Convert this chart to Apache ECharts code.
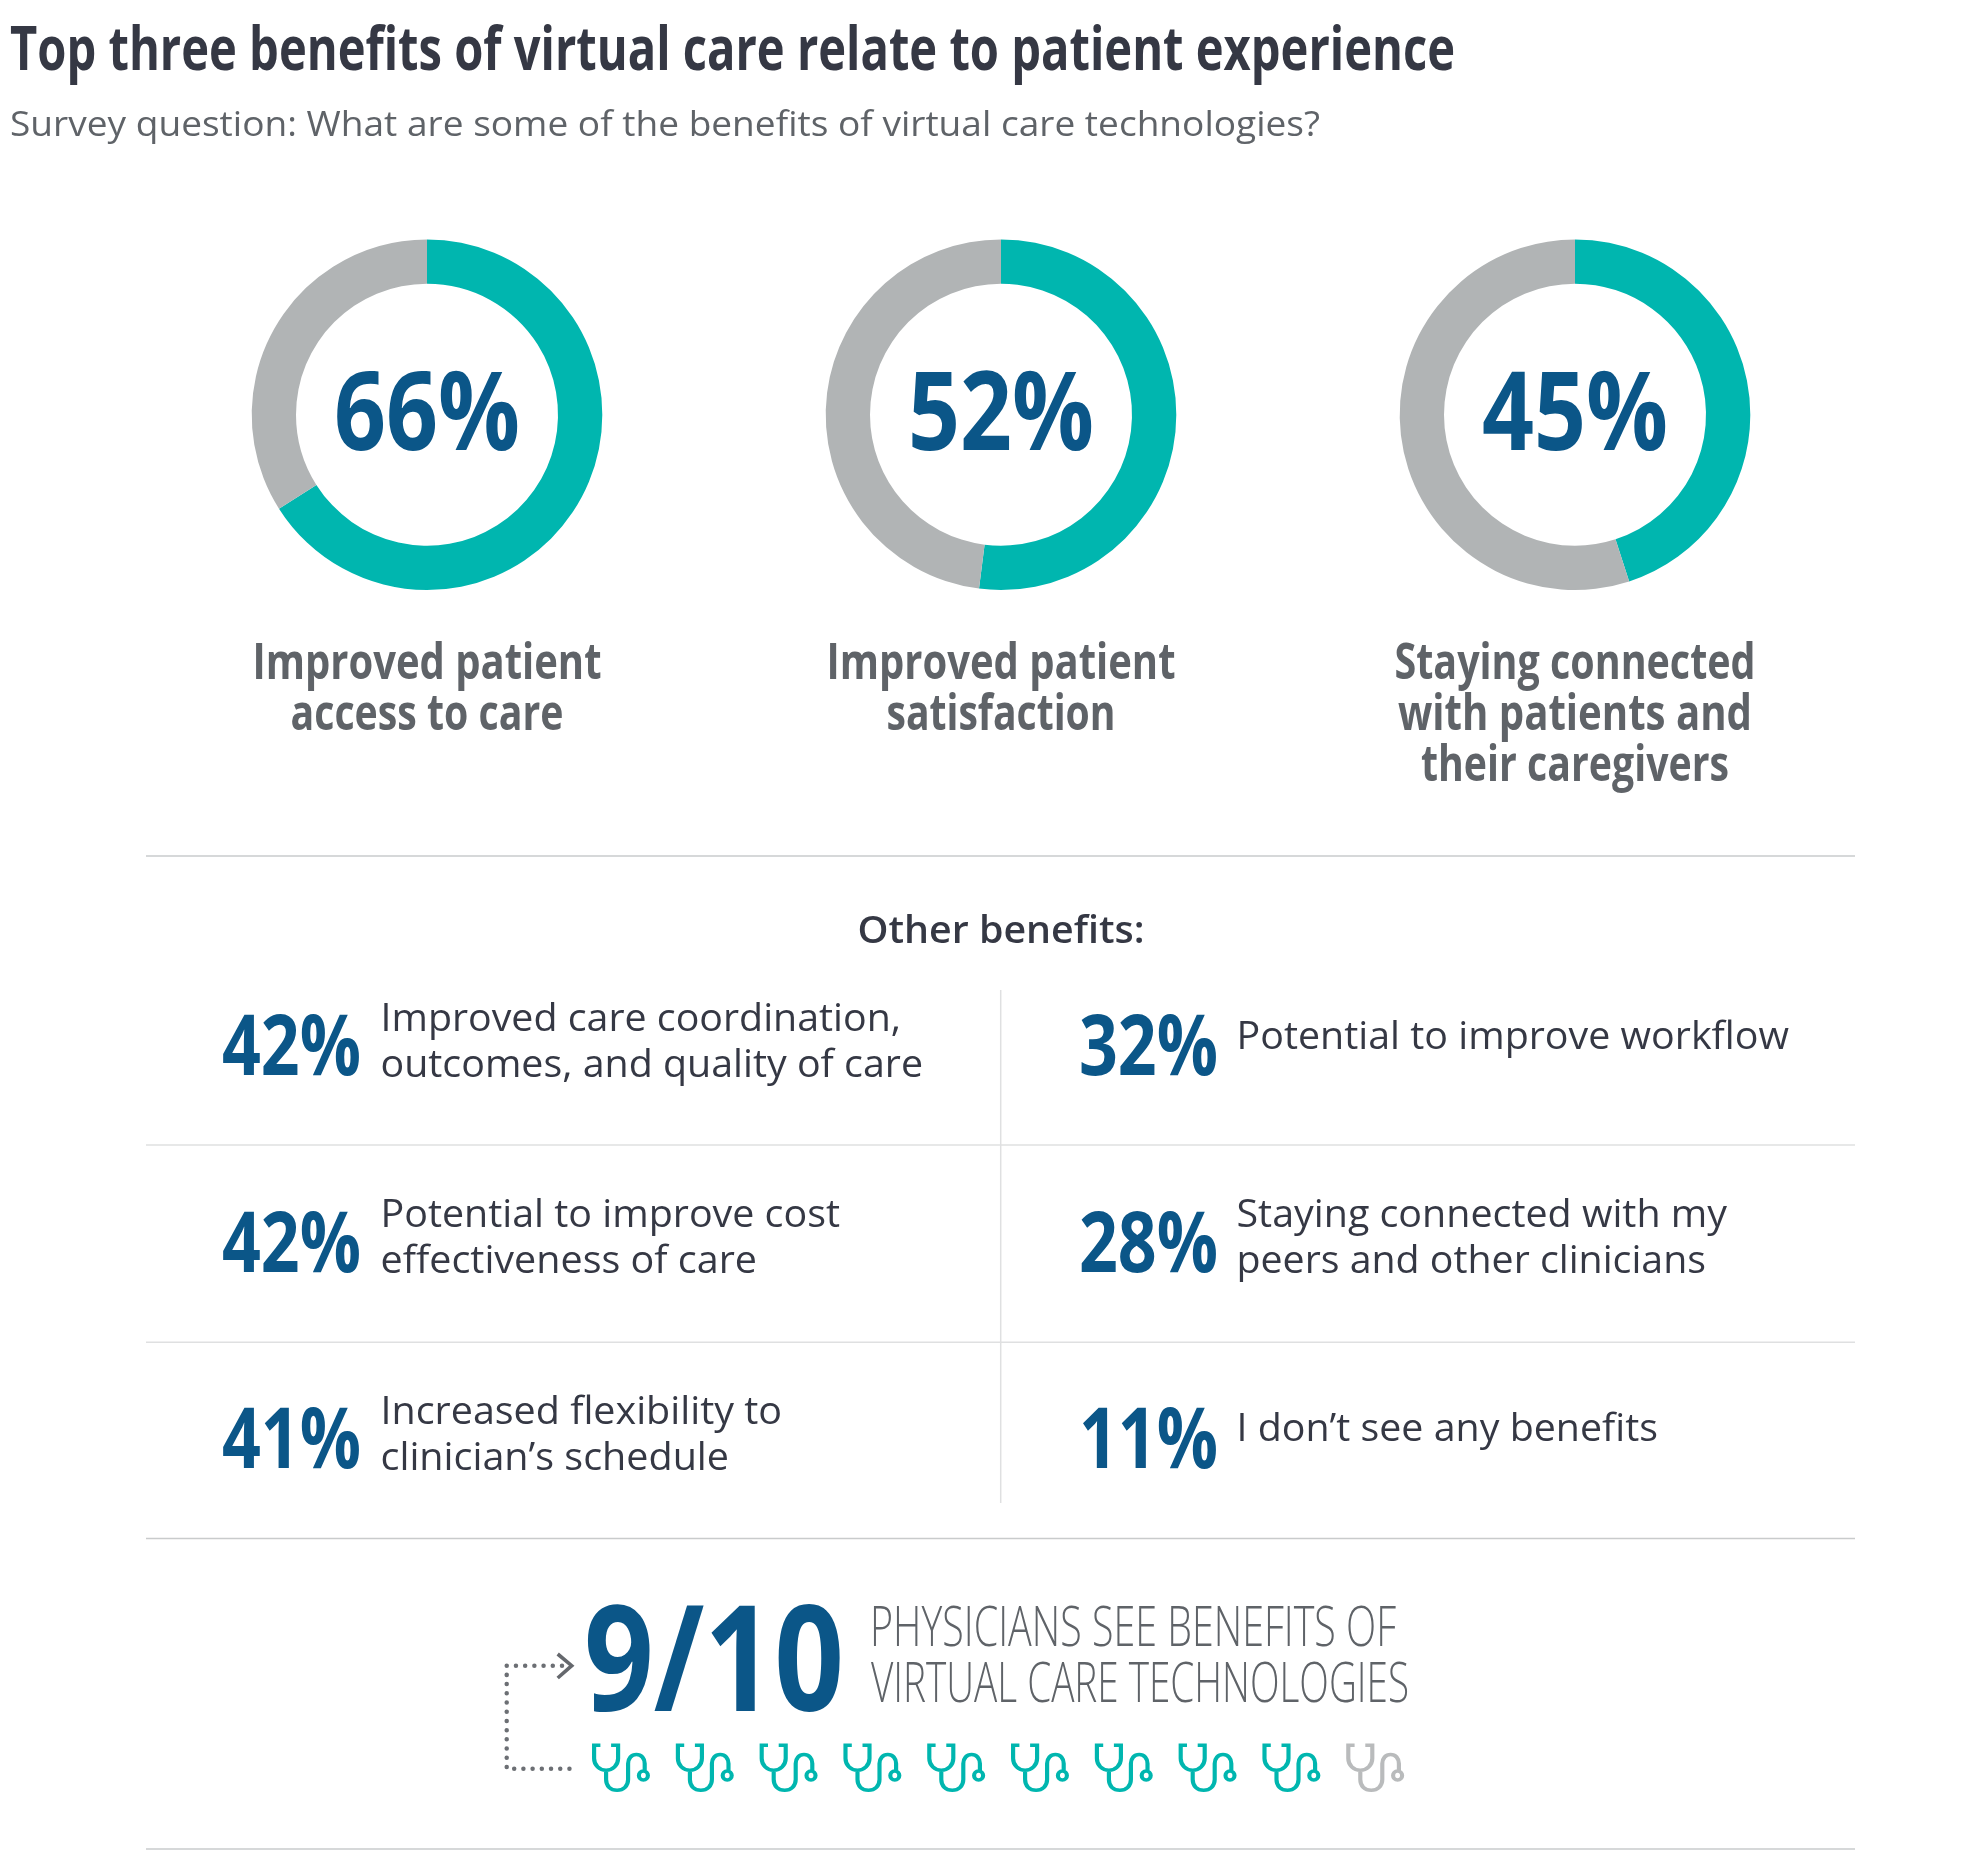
<!DOCTYPE html>
<html><head><meta charset="utf-8">
<style>html,body{margin:0;padding:0;background:#fff}#c{width:1976px;height:1870px}</style>
<script src="https://cdn.jsdelivr.net/npm/echarts@6/dist/echarts.min.js"></script>
</head><body><div id="c"></div>
<script>
// ---- data ----
const topLabels = [
  ["Improved patient", "access to care"],
  ["Improved patient", "satisfaction"],
  ["Staying connected", "with patients and", "their caregivers"]
];
const topValues = [66, 52, 45];
const otherValues = [42, 42, 41, 32, 28, 11];
const otherLabels = [
  ["Improved care coordination,", "outcomes, and quality of care"],
  ["Potential to improve cost", "effectiveness of care"],
  ["Increased flexibility to", "clinician\u2019s schedule"],
  ["Potential to improve workflow"],
  ["Staying connected with my", "peers and other clinicians"],
  ["I don\u2019t see any benefits"]
];
const physicians = [1, 1, 1, 1, 1, 1, 1, 1, 1, 0];
const titleText = "Top three benefits of virtual care relate to patient experience";
const subtitleText = "Survey question: What are some of the benefits of virtual care technologies?";
const otherHeading = "Other benefits:";
const fractionText = "9/10";
const fractionLines = ["PHYSICIANS SEE BENEFITS OF", "VIRTUAL CARE TECHNOLOGIES"];

// ---- style ----
const TEAL = "#00b6af", GREY = "#b1b4b5", BLUE = "#0b5688", DARK = "#353844", MID = "#5f6368", RULE = "#c9cbcc", RULE2 = "#dfe0e1";
const FONT = '"Open Sans"';
const meas = document.createElement("canvas").getContext("2d");
function txt(s, x, base, size, weight, fill, width, align) {
  const font = weight + " " + size + "px " + FONT;
  meas.font = font;
  const sx = width ? width / meas.measureText(s).width : 1;
  return { type: "text", x: x, y: base - 0.28 * size, scaleX: sx, silent: true, z: 10,
    style: { text: s, font: font, fill: fill, textAlign: align || "left", textVerticalAlign: "middle" } };
}
function rule(x1, y1, x2, y2, c) {
  return { type: "line", silent: true, shape: { x1, y1, x2, y2 }, style: { stroke: c, lineWidth: 1.5 } };
}
const g = [];
g.push(txt(titleText, 10, 70, 60, 700, DARK, 1445));
g.push(txt(subtitleText, 10, 135.7, 35, 400, MID, 1310));

const centers = [427, 1001, 1575];
const cy = 414.7;
const labelWidths = [[349, 273], [349, 229], [361, 354, 308]];
topValues.forEach((v, i) => {
  g.push(txt(v + "%", centers[i], 449, 110, 700, BLUE, 186, "center"));
  topLabels[i].forEach((l, j) => g.push(txt(l, centers[i], 678.8 + j * 50.9, 51, 700, MID, labelWidths[i][j], "center")));
});

[856, 1145, 1342.3, 1538.5, 1849].forEach((y, i) => g.push(rule(146, y, 1855, y, (i === 0 || i >= 3) ? RULE : RULE2)));
g.push(rule(1000.7, 990, 1000.7, 1503, RULE2));
g.push(txt(otherHeading, 1001, 943.3, 38, 600, DARK, 287, "center"));

const pctBase = [1075, 1272, 1468];
const pctX = [222, 1079];
const descX = [380.5, 1236.5];
const descW = [[520.5, 542.5], [459.5, 376.5], [401.5, 348.5], [552.5], [490.5, 469.5], [421.5]];
const descBase = [[1030.7, 1076.7], [1227, 1273], [1424, 1470], [1049], [1227, 1273], [1441]];
otherValues.forEach((v, i) => {
  const col = i < 3 ? 0 : 1, row = i % 3;
  g.push(txt(v + "%", pctX[col], pctBase[row], 84, 700, BLUE, 139));
  otherLabels[i].forEach((l, j) => g.push(txt(l, descX[col], descBase[i][j], 38, 400, DARK, descW[i][j])));
});

g.push(txt(fractionText, 584, 1710.7, 147, 700, BLUE, 260));
fractionLines.forEach((l, j) => g.push(txt(l, [870, 871][j], [1646, 1702][j], 54.6, 300, MID, [526, 538][j])));

const dot = { stroke: "#6c6f74", lineWidth: 4.5, lineDash: [0.01, 9.2], lineCap: "round", fill: "none" };
g.push({ type: "polyline", silent: true, shape: { points: [[562, 1665.7], [506.7, 1665.7], [506.7, 1768.7], [575, 1768.7]] }, style: dot });
g.push({ type: "polyline", silent: true, shape: { points: [[557.7, 1654], [571.7, 1665.7], [557.7, 1678]] }, style: { stroke: "#65686d", lineWidth: 3.6, fill: "none" } });

const scope = "path://M8 1.7H1.7V15C1.7 21.6 7 26.7 13.7 26.7C20.3 26.7 25.7 21.6 25.7 15V1.7H18.7M13.7 26.7V36C13.7 42.5 18 46.7 24.7 46.7C31 46.7 35.7 42.5 35.7 36V20C35.7 15 39 11 44 11C49 11 52.3 15 52.3 20V27.5M51 27.5C48.5 27.5 46.5 29.5 46.5 32C46.5 34.5 48.5 36.5 51 36.5C53.5 36.5 55.5 34.5 55.5 32C55.5 29.5 53.5 27.5 51 27.5Z";

const pies = topValues.map((v, i) => ({
  type: "pie", silent: true, center: [centers[i], cy], radius: [131, 175.3], startAngle: 90, clockwise: true,
  label: { show: false }, labelLine: { show: false }, emphasis: { disabled: true },
  data: [{ value: v, itemStyle: { color: TEAL } }, { value: 100 - v, itemStyle: { color: GREY } }]
}));

const chart = echarts.init(document.getElementById("c"), null, { renderer: "canvas", width: 1976, height: 1870 });
chart.setOption({
  animation: false, backgroundColor: "#fff",
  grid: { left: 621, width: 754.2, top: 1766.7, height: 1 },
  xAxis: { type: "value", min: 0, max: 9, show: false },
  yAxis: { type: "value", min: 0, max: 1, show: false },
  graphic: g,
  series: pies.concat([{
    type: "scatter", silent: true, symbol: scope, symbolSize: [53.8, 45], symbolKeepAspect: false,
    data: physicians.map((v, i) => ({
      value: [i, 0],
      itemStyle: { opacity: 1, color: "rgba(0,0,0,0)", borderColor: v ? TEAL : "#b9bbbc", borderWidth: 3.8 }
    }))
  }])
});
</script></body></html>
